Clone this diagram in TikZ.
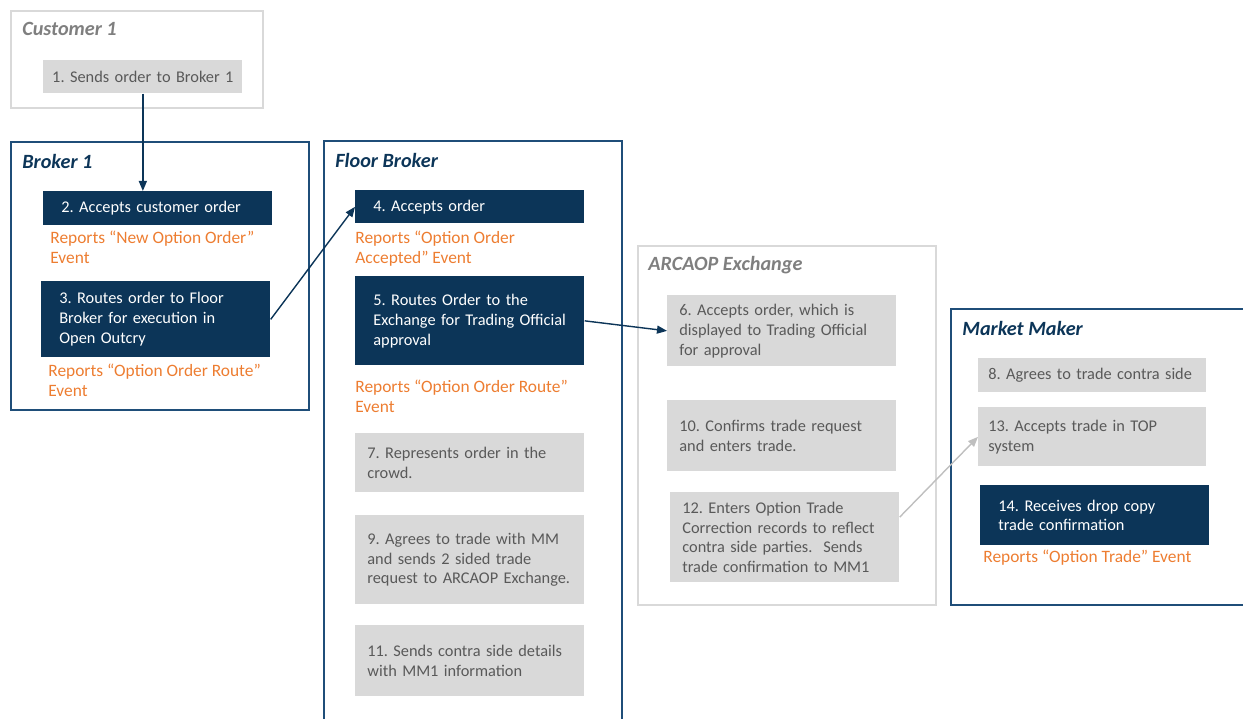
\documentclass[tikz,border=0pt]{standalone}
\usepackage{fontspec}
\setmainfont{Carlito}
\frenchspacing
\usetikzlibrary{arrows.meta, positioning, calc}
\definecolor{navyfill}{RGB}{12,53,88}
\definecolor{frameblue}{RGB}{31,78,121}
\definecolor{lightframe}{RGB}{217,217,217}
\definecolor{stepgray}{RGB}{217,217,217}
\definecolor{textgray}{RGB}{89,89,89}
\definecolor{titlegray}{RGB}{127,127,127}
\definecolor{reportorange}{RGB}{237,125,49}
\definecolor{linkgray}{RGB}{191,191,191}
\newcommand{\boxfont}{\fontsize{9.3}{11.3}\selectfont}

\begin{document}
\begin{tikzpicture}[
    lane/.style={draw=frameblue, line width=1.1pt, rectangle, anchor=north west, inner sep=0pt},
    greylane/.style={lane, draw=lightframe},
    lanetitle/.style={anchor=west, inner sep=0pt, font=\fontsize{11.5}{13}\selectfont\bfseries\itshape, text=navyfill},
    darkstep/.style={rectangle, fill=navyfill, text=white, anchor=north west, align=left, inner xsep=0.36cm, inner ysep=0pt, text width=3.86cm, font=\boxfont},
    greystep/.style={rectangle, fill=stepgray, text=textgray, anchor=north west, align=left, inner xsep=0.24cm, inner ysep=0pt, text width=4.1cm, font=\boxfont},
    report/.style={anchor=west, align=left, inner sep=0pt, text=reportorange, font=\fontsize{9.9}{11.3}\selectfont},
    link/.style={-{Triangle[length=0.2cm, width=0.16cm]}, line width=0.8pt, navyfill},
    greylink/.style={link, linkgray}
]
\useasboundingbox (0,0) rectangle (24.86,-14.38);

% Customer 1 lane (top left)
\node[greylane, minimum width=5.04cm, minimum height=1.94cm] (cust) at (0.2,-0.2) {};
\node[lanetitle, text=titlegray] (custtitle) at (0.44,-0.58) {Customer 1};
\node[greystep, align=center, inner xsep=0.1cm, text width=3.78cm, minimum height=0.66cm] (s1) at (0.86,-1.2) {1. Sends order to Broker 1};

% Broker 1 lane
\node[lane, minimum width=5.96cm, minimum height=5.36cm] (broker) at (0.2,-2.82) {};
\node[lanetitle] (brokertitle) at (0.44,-3.22) {Broker 1};
\node[darkstep, minimum height=0.68cm] (s2) at (0.86,-3.82) {2. Accepts customer order};
\node[report] (r2) at (1.0,-4.94) {Reports “New Option Order”\\Event};
\node[darkstep, minimum height=1.52cm] (s3) at (0.82,-5.62) {3. Routes order to Floor\\Broker for execution in\\Open Outcry};
\node[report] (r3) at (0.96,-7.61) {Reports “Option Order Route”\\Event};

% Floor Broker lane
\node[lane, minimum width=5.96cm, minimum height=12cm] (floor) at (6.46,-2.8) {};
\node[lanetitle] (floortitle) at (6.7,-3.2) {Floor Broker};
\node[darkstep, minimum height=0.66cm] (s4) at (7.1,-3.8) {4. Accepts order};
\node[report] (r4) at (7.1,-4.98) {Reports “Option Order\\Accepted” Event};
\node[darkstep, minimum height=1.78cm] (s5) at (7.1,-5.52) {5. Routes Order to the\\Exchange for Trading Official\\approval};
\node[report] (r5) at (7.1,-7.92) {Reports “Option Order Route”\\Event};
\node[greystep, minimum height=1.18cm] (s7) at (7.1,-8.66) {7. Represents order in the\\crowd.};
\node[greystep, minimum height=1.78cm] (s9) at (7.1,-10.3) {9. Agrees to trade with MM\\and sends 2 sided trade\\request to ARCAOP Exchange.};
\node[greystep, minimum height=1.42cm] (s11) at (7.1,-12.5) {11. Sends contra side details\\with MM1 information};

% ARCAOP Exchange lane
\node[greylane, minimum width=5.96cm, minimum height=7.18cm] (exch) at (12.74,-4.9) {};
\node[lanetitle, text=titlegray] (exchtitle) at (12.96,-5.3) {ARCAOP Exchange};
\node[greystep, minimum height=1.42cm] (s6) at (13.34,-5.9) {6. Accepts order, which is\\displayed to Trading Official\\for approval};
\node[greystep, minimum height=1.42cm] (s10) at (13.34,-8.0) {10. Confirms trade request\\and enters trade.};
\node[greystep, minimum height=1.8cm] (s12) at (13.4,-9.84) {12. Enters Option Trade\\Correction records to reflect\\contra side parties.\ \ Sends\\trade confirmation to MM1};

% Market Maker lane (runs off the right edge)
\node[lane, minimum width=6.5cm, minimum height=5.92cm] (mm) at (19.0,-6.16) {};
\node[lanetitle] (mmtitle) at (19.24,-6.56) {Market Maker};
\node[greystep, inner xsep=0.2cm, text width=4.16cm, minimum height=0.68cm] (s8) at (19.56,-7.16) {8. Agrees to trade contra side};
\node[greystep, inner xsep=0.2cm, text width=4.16cm, minimum height=1.18cm] (s13) at (19.56,-8.14) {13. Accepts trade in TOP\\system};
\node[darkstep, minimum height=1.2cm] (s14) at (19.6,-9.7) {14. Receives drop copy\\trade confirmation};
\node[report] (r14) at (19.66,-11.16) {Reports “Option Trade” Event};

% Connectors
\draw[link] (s1.south) -- (s1.south |- s2.north);
\draw[link] (s3.east) -- (s4.west);
\draw[link] (s5.east) -- (s6.west);
\draw[greylink] (s12.10) -- (s13.west);

\end{tikzpicture}
\end{document}
